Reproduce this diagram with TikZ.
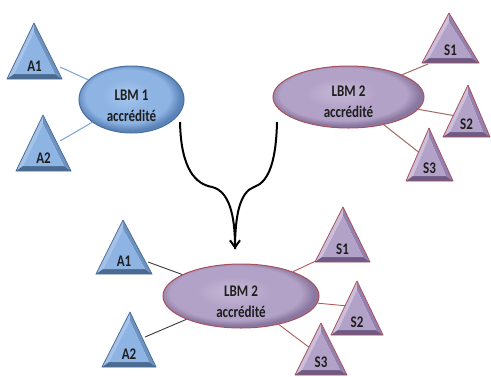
\documentclass[tikz,border=0pt]{standalone}
\usepackage{fontspec}
\usepackage{graphicx}
\setmainfont{Carlito}
\usetikzlibrary{shapes.geometric,arrows.meta}
\definecolor{bBase}{HTML}{8EB4E3}
\definecolor{bHi}{HTML}{A9C8EE}
\definecolor{bRim}{HTML}{5A83B8}
\definecolor{bEdge}{HTML}{4A6E9E}
\definecolor{bBot}{HTML}{4A6A90}
\definecolor{bLeft}{HTML}{A6C2E6}
\definecolor{bRight}{HTML}{6F93C0}
\definecolor{pBase}{HTML}{B3A2C7}
\definecolor{pHi}{HTML}{C7B9D8}
\definecolor{pRim}{HTML}{8A779F}
\definecolor{pEdge}{HTML}{A8505E}
\definecolor{pBot}{HTML}{6E5B85}
\definecolor{pLeft}{HTML}{CBBFDB}
\definecolor{pRight}{HTML}{9581B0}
\definecolor{txt}{HTML}{1E1E1E}
\definecolor{lnA}{HTML}{86A9D3}
\definecolor{lnS}{HTML}{A06A66}
\definecolor{lnD}{HTML}{3A3A3A}
\definecolor{lnR}{HTML}{B45A5A}
\pgfdeclareradialshading{blueell}{\pgfpoint{-3bp}{4bp}}{color(0bp)=(bHi); color(12bp)=(bBase); color(20bp)=(bBase); color(25bp)=(bRim); color(50bp)=(bRim)}
\pgfdeclareradialshading{purpell}{\pgfpoint{-3bp}{4bp}}{color(0bp)=(pHi); color(12bp)=(pBase); color(21bp)=(pBase); color(25bp)=(pRim); color(50bp)=(pRim)}
\newcommand\tallt[1]{\scalebox{1}[1.25]{#1}}
\tikzset{
  lbmA/.style={ellipse, shading=blueell, draw=bEdge, line width=1pt, inner sep=0pt},
  lbmS/.style={ellipse, shading=purpell, draw=pEdge, line width=1pt, inner sep=0pt},
  lbmtext/.style={inner sep=0pt, align=center, text=txt, font=\fontsize{13}{21}\selectfont\bfseries},
  trilabel/.style={inner sep=0pt, text=txt, font=\fontsize{13}{15}\selectfont\bfseries},
  conA/.style={draw=lnA, line width=1.1pt},
  conS/.style={draw=lnS, line width=1pt},
  conD/.style={draw=lnD, line width=0.9pt},
  conR/.style={draw=lnR, line width=0.9pt},
  merge/.style={draw=black, line width=2pt},
}
% #1 name, #2 apex x, #3 apex y, #4 left x, #5 right x, #6 base y, #7 palette (b or p), #8 label
\newcommand\bevtri[8]{%
  \coordinate (#1p) at (#2,#3);
  \coordinate (#1l) at (#4,#6);
  \coordinate (#1r) at (#5,#6);
  \coordinate (#1pi) at (#2,#3+9);
  \coordinate (#1li) at (#4+7,#6-5);
  \coordinate (#1ri) at (#5-7,#6-5);
  \fill[#7Left] (#1l)--(#1p)--(#1pi)--(#1li)--cycle;
  \fill[#7Right] (#1p)--(#1r)--(#1ri)--(#1pi)--cycle;
  \fill[#7Bot] (#1l)--(#1r)--(#1ri)--(#1li)--cycle;
  \fill[#7Base] (#1pi)--(#1li)--(#1ri)--cycle;
  \draw[#7Edge, line width=0.8pt, line join=round] (#1p)--(#1l)--(#1r)--cycle;
  \node[trilabel] (#1) at ({(#4+#5)/2},#6-13) {\tallt{#8}};
}
\begin{document}
\begin{tikzpicture}[x=1pt,y=-1pt]
\useasboundingbox (0,0) rectangle (491,376);
% ellipses
\node[lbmA, minimum width=105pt, minimum height=67pt] (l1) at (131.5,99.5) {};
\node[lbmS, minimum width=151pt, minimum height=62pt] (l2) at (348.5,97) {};
\node[lbmS, minimum width=156pt, minimum height=64pt] (l3) at (241,296) {};
\node[lbmtext] (l1t) at ([yshift=-6pt]l1.center) {\tallt{LBM 1}\\\tallt{accrédité}};
\node[lbmtext] (l2t) at ([yshift=-5pt]l2.center) {\tallt{LBM 2}\\\tallt{accrédité}};
\node[lbmtext] (l3t) at ([yshift=-6pt]l3.center) {\tallt{LBM 2}\\\tallt{accrédité}};
% connector ends on triangles
\coordinate (ta1) at (60,67);
\coordinate (ta2) at (60,141);
\coordinate (ts1) at (428,64);
\coordinate (ts2) at (456,116);
\coordinate (ts3) at (421,154);
\coordinate (ba1) at (148,262);
\coordinate (ba2) at (145,337);
\coordinate (bs1) at (320,259);
\coordinate (bs2) at (348,306);
\coordinate (bs3) at (310,348);
\draw[conA] (l1) -- (ta1);
\draw[conA] (l1) -- (ta2);
\draw[conS] (l2) -- (ts1);
\draw[conS] (l2) -- (ts2);
\draw[conS] (l2) -- (ts3);
\draw[conD] (l3) -- (ba1);
\draw[conD] (l3) -- (ba2);
\draw[conR] (l3) -- (bs1);
\draw[conR] (l3) -- (bs2);
\draw[conR] (l3) -- (bs3);
% triangles
\bevtri{A1}{34}{23}{7}{62}{79}{b}{A1}
\bevtri{A2}{43}{115}{16}{71}{171}{b}{A2}
\bevtri{S1}{449}{13}{422}{479}{63}{p}{S1}
\bevtri{S2}{468}{85}{443}{490}{137}{p}{S2}
\bevtri{S3}{429}{128}{406}{453}{181}{p}{S3}
\bevtri{BA1}{123}{220}{96}{152}{274}{b}{A1}
\bevtri{BA2}{130}{312}{102}{156}{367}{b}{A2}
\bevtri{BS1}{343}{207}{315}{370}{262}{p}{S1}
\bevtri{BS2}{357}{281}{331}{383}{335}{p}{S2}
\bevtri{BS3}{321}{323}{295}{347}{375}{p}{S3}
% merging arrow
\coordinate (m1) at (180,122);
\coordinate (m2) at (277,122);
\coordinate (tip) at (235,249);
\draw[merge] (m2) .. controls (276,168) and (266,183) .. (254,187) .. controls (240,192) and (235,215) .. (tip);
\draw[merge, -{Straight Barb[length=7pt,width=10pt]}] (m1) .. controls (181,170) and (196,184) .. (212,187) .. controls (229,191) and (235,215) .. (tip);
\end{tikzpicture}
\end{document}
